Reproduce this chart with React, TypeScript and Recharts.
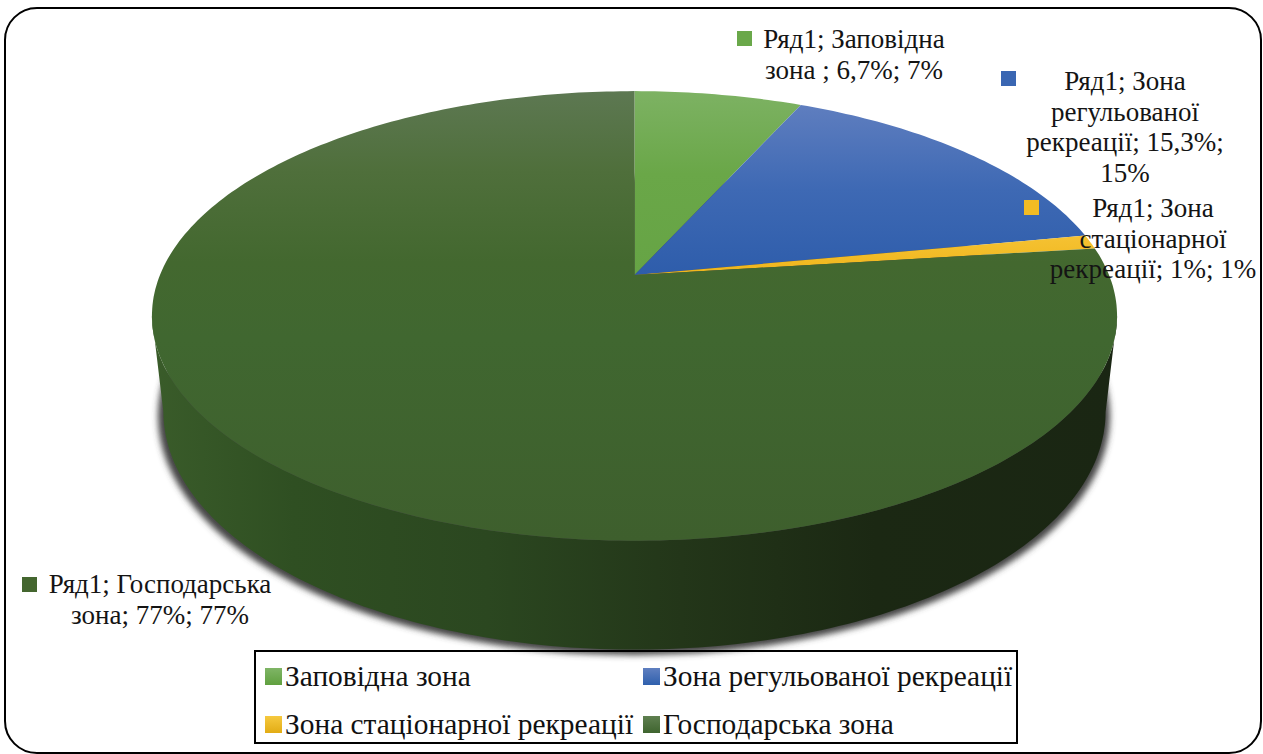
import { Pie, PieChart, Legend } from "recharts";

const categories = [
  "Заповідна зона",
  "Зона регульованої рекреації",
  "Зона стаціонарної рекреації",
  "Господарська зона",
];
const shares = [6.7, 15.3, 1, 77];
const labelLines = [
  ["Ряд1; Заповідна", "зона ; 6,7%; 7%"],
  ["Ряд1; Зона", "регульованої", "рекреації; 15,3%;", "15%"],
  ["Ряд1; Зона", "стаціонарної", "рекреації; 1%; 1%"],
  ["Ряд1; Господарська", "зона; 77%; 77%"],
];

const data = categories.map((name, i) => ({ name, value: shares[i] }));

// where each data label sits: text centre, first baseline, marker corner
const labelSpots = [
  { x: 854, y: 48, mx: 737, my: 31 },
  { x: 1125, y: 90, mx: 1001, my: 71 },
  { x: 1153, y: 217, mx: 1024, my: 200 },
  { x: 160, y: 593, mx: 22, my: 577 },
];
const markerColors = ["#6aa84a", "#3a66b2", "#f2bb24", "#44662f"];
const swatches = [
  "linear-gradient(#7fb566, #60a03f)",
  "linear-gradient(#5f7fc0, #2f60ad)",
  "linear-gradient(#f6c93f, #e2ac14)",
  "linear-gradient(#5f7f50, #3f652f)",
];
const fontFamily = "'Liberation Serif', serif";

// pie is seen in perspective, the centre does not sit in the middle of the ellipse
const CX = 634.5;
const CY = 275;
const PERSP = 0.182;
const TILT = 0.458;
const FLOOR = { sx: 471 / 482.5, sy: 238 / 225, midY: 316, floorY: 412 };

const project = (deg: number, r: number) => {
  const a = (deg * Math.PI) / 180;
  const w = 1 + PERSP * Math.cos(a);
  return [CX + (r * Math.sin(a)) / w, CY - (r * TILT * Math.cos(a)) / w];
};
const onFloor = ([x, y]: number[]) => [
  CX + (x - CX) * FLOOR.sx,
  FLOOR.floorY + (y - FLOOR.midY) * FLOOR.sy,
];
const toPath = (pts: number[][]) =>
  "M" + pts.map((p) => `${p[0].toFixed(1)},${p[1].toFixed(1)}`).join("L") + "Z";

const arc = (from: number, to: number, r: number) => {
  const pts = [];
  const n = Math.max(2, Math.ceil(Math.abs(to - from)));
  for (let i = 0; i <= n; i++) pts.push(project(from + ((to - from) * i) / n, r));
  return pts;
};

const PieSlice = (props: any) => {
  const { startAngle, endAngle, outerRadius, index } = props;
  const from = 90 - startAngle;
  const to = 90 - endAngle;
  // side wall only shows between the two silhouette points
  const wallFrom = Math.max(from, 100.5);
  const wallTo = Math.min(to, 259.5);
  const rim = wallTo > wallFrom ? arc(wallFrom, wallTo, outerRadius) : null;
  return (
    <g>
      {rim && <path d={toPath([...rim, ...rim.map(onFloor).reverse()])} fill="url(#wall)" />}
      <path d={toPath([[CX, CY], ...arc(from, to, outerRadius)])} fill={`url(#top${index})`} />
    </g>
  );
};

const renderLabel = (props: any) => {
  const { index } = props;
  const spot = labelSpots[index];
  return (
    <g key={index}>
      <rect x={spot.mx} y={spot.my} width={15} height={15} fill={markerColors[index]} />
      <text x={spot.x} y={spot.y} textAnchor="middle" fontFamily={fontFamily} fontSize={27} fill="#141414">
        {labelLines[index].map((line, i) => (
          <tspan key={line} x={spot.x} dy={i === 0 ? 0 : 30.5}>
            {line}
          </tspan>
        ))}
      </text>
    </g>
  );
};

const renderLegend = (props: any) => (
  <div
    style={{
      boxSizing: "border-box",
      width: 764,
      height: 94,
      border: "2px solid #000",
      position: "relative",
      fontFamily,
      fontSize: 29.4,
      color: "#111",
      whiteSpace: "nowrap",
    }}
  >
    {(props.payload || []).map((entry: any, i: number) => (
      <div
        key={entry.value}
        style={{
          position: "absolute",
          left: i % 2 === 0 ? 9 : 387,
          top: i < 2 ? 8 : 56,
          height: 32,
          display: "flex",
          alignItems: "center",
        }}
      >
        <span style={{ width: 17, height: 17, marginRight: 3, background: swatches[i] }} />
        {entry.value}
      </div>
    ))}
  </div>
);

export default function App() {
  return (
    <div style={{ position: "absolute", left: 0, top: 0 }}>
      <PieChart width={1263} height={754} margin={{ top: 0, right: 0, bottom: 0, left: 0 }}>
        <defs>
          <linearGradient id="top0" gradientUnits="userSpaceOnUse" x1="0" y1="91" x2="0" y2="275">
            <stop offset="0" stopColor="#7db263" />
            <stop offset="0.45" stopColor="#6aa748" />
            <stop offset="1" stopColor="#66a445" />
          </linearGradient>
          <linearGradient id="top1" gradientUnits="userSpaceOnUse" x1="0" y1="104" x2="0" y2="275">
            <stop offset="0" stopColor="#5f7ebf" />
            <stop offset="0.5" stopColor="#3e69b4" />
            <stop offset="1" stopColor="#2e5dab" />
          </linearGradient>
          <linearGradient id="top2" gradientUnits="userSpaceOnUse" x1="0" y1="236" x2="0" y2="275">
            <stop offset="0" stopColor="#f5c233" />
            <stop offset="1" stopColor="#efb51a" />
          </linearGradient>
          <linearGradient id="top3" gradientUnits="userSpaceOnUse" x1="0" y1="91" x2="0" y2="541">
            <stop offset="0" stopColor="#5d7852" />
            <stop offset="0.18" stopColor="#4f6f3b" />
            <stop offset="0.38" stopColor="#43682f" />
            <stop offset="0.55" stopColor="#406730" />
            <stop offset="1" stopColor="#3e5f2d" />
          </linearGradient>
          <linearGradient id="wall" gradientUnits="userSpaceOnUse" x1="148" y1="0" x2="1117" y2="0">
            <stop offset="0" stopColor="#3a5c2a" />
            <stop offset="0.15" stopColor="#2f4f22" />
            <stop offset="0.35" stopColor="#2b4720" />
            <stop offset="0.55" stopColor="#233619" />
            <stop offset="0.75" stopColor="#1b2813" />
            <stop offset="1" stopColor="#1a2613" />
          </linearGradient>
          <filter id="blur" x="-5%" y="-5%" width="110%" height="110%">
            <feGaussianBlur stdDeviation="3" />
          </filter>
        </defs>
        <rect x={5} y={8} width={1256} height={745} rx={32} fill="none" stroke="#000" strokeWidth={2} />
        <ellipse cx={634} cy={416} rx={476} ry={239} fill="#444" filter="url(#blur)" />
        <Pie
          data={data}
          dataKey="value"
          nameKey="name"
          cx={CX}
          cy={CY}
          outerRadius={474.5}
          startAngle={90}
          endAngle={-270}
          stroke="none"
          shape={PieSlice}
          label={renderLabel}
          labelLine={false}
          isAnimationActive={false}
        />
        <Legend
          content={renderLegend}
          itemSorter={null}
          wrapperStyle={{ left: 254, top: 650, width: 764, bottom: "auto" }}
        />
      </PieChart>
    </div>
  );
}
